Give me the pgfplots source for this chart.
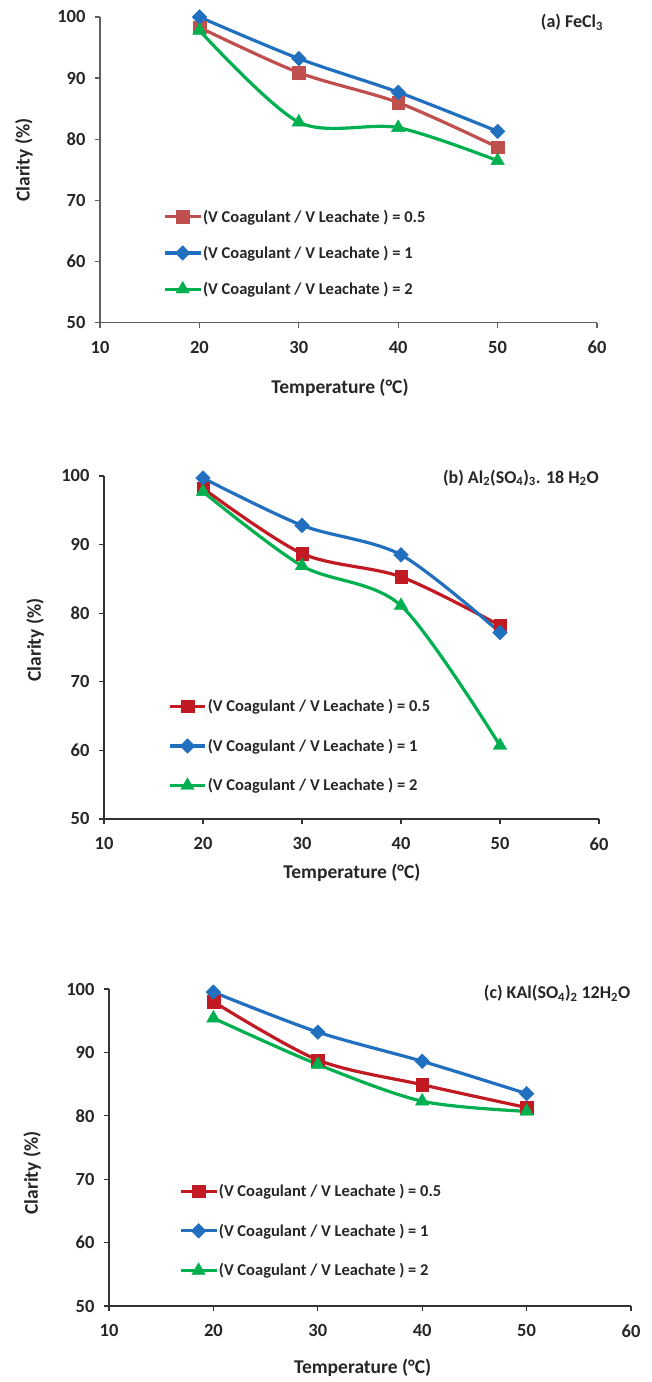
\documentclass[border=0pt]{standalone}
\usepackage{fontspec}
\setmainfont{Carlito}
\usepackage{pgfplots}
\pgfplotsset{compat=1.18}

\definecolor{redA}{HTML}{C0504D}
\definecolor{redB}{HTML}{C21A22}
\definecolor{blueS}{HTML}{2170C0}
\definecolor{greenS}{HTML}{00B050}
\definecolor{axisA}{HTML}{606060}
\definecolor{axisB}{HTML}{333333}
\definecolor{txt}{HTML}{262626}

% clarity (%) against temperature for three coagulant/leachate volume ratios
\pgfplotstableread{
T   r05   r1    r2
20  98.3  100.0 97.8
30  90.9  93.2  82.8
40  86.0  87.7  81.9
50  78.7  81.3  76.5
}\fecl
\pgfplotstableread{
T   r05   r1    r2
20  98.2  99.7  97.7
30  88.7  92.8  86.9
40  85.3  88.5  81.1
50  78.2  77.2  60.7
}\alum
\pgfplotstableread{
T   r05   r1    r2
20  98.0  99.5  95.4
30  88.8  93.2  88.1
40  84.9  88.6  82.3
50  81.3  83.5  80.7
}\kalum

\pgfplotsset{
  panel/.style={
    scale only axis, clip=false,
    xmin=10, xmax=60, ymin=50, ymax=100,
    xtick={10,20,...,60}, ytick={50,60,...,100},
    axis x line*=bottom, axis y line*=left,
    tick align=outside, major tick length=5bp,
    axis line style={line width=1.3bp, -},
    tick style={line width=1.3bp},
    /pgf/number format/assume math mode=true,
    tick label style={font=\fontsize{18.5bp}{21bp}\selectfont\bfseries, text=txt},
    xticklabel style={yshift=-10bp},
    yticklabel style={xshift=-6bp},
    label style={font=\fontsize{19.5bp}{23bp}\selectfont\bfseries, text=txt},
    xlabel={Temperature (°C)}, ylabel={Clarity (\%)},
    legend style={draw=none, fill=none, inner sep=0pt, outer sep=0pt,
      font=\fontsize{16.5bp}{19bp}\selectfont\bfseries, text=txt,
      nodes={inner sep=1.2bp}, cells={anchor=west}, anchor=west},
    legend image code/.code={%
      \draw[mark repeat=2,mark phase=2] plot coordinates {(0bp,0bp) (17.5bp,0bp) (35bp,0bp)};},
    every axis plot/.append style={line width=3.2bp, smooth,
      mark options={solid, line width=0.4bp}},
  },
  sq/.style={mark=square*, mark size=6.3bp},
  dm/.style={mark=square*, mark size=5.2bp, mark options={rotate=45, solid, line width=0.4bp}},
  tr/.style={mark=triangle*, mark size=7.8bp},
}

\newcommand{\ttl}{\fontsize{18bp}{21bp}\selectfont\bfseries\color{txt}}

\begin{document}
\begin{tikzpicture}
\useasboundingbox (0,0) rectangle (652bp,1382bp);

% (a) FeCl3
\begin{axis}[panel, at={(100bp,1059.3bp)}, anchor=south west,
  width=497bp, height=305.7bp,
  axis line style={draw=axisA}, tick style={draw=axisA},
  xlabel style={at={(axis description cs:0.483,-0.214)}, anchor=center},
  ylabel style={at={(axis description cs:-0.153,0.532)}, anchor=center},
  legend style={at={(axis description cs:0.128,0.228)}, row sep=20bp}]
\addplot[redA, sq] table[x=T, y=r05] {\fecl};
\addlegendentry{(V Coagulant / V Leachate ) = 0.5}
\addplot[blueS, dm] table[x=T, y=r1] {\fecl};
\addlegendentry{(V Coagulant / V Leachate ) = 1}
\addplot[greenS, tr] table[x=T, y=r2] {\fecl};
\addlegendentry{(V Coagulant / V Leachate ) = 2}
\node[anchor=east, inner sep=0pt] at (rel axis cs:1.0125,0.982) {\ttl (a) FeCl\textsubscript{3}};
\end{axis}

% (b) Al2(SO4)3 . 18 H2O
\begin{axis}[panel, at={(104bp,563bp)}, anchor=south west,
  width=495bp, height=343bp,
  axis line style={draw=axisB}, tick style={draw=axisB},
  xlabel style={at={(axis description cs:0.501,-0.157)}, anchor=center},
  ylabel style={at={(axis description cs:-0.139,0.522)}, anchor=center},
  legend style={at={(axis description cs:0.130,0.213)}, row sep=23.5bp}]
\addplot[redB, sq] table[x=T, y=r05] {\alum};
\addlegendentry{(V Coagulant / V Leachate ) = 0.5}
\addplot[blueS, dm] table[x=T, y=r1] {\alum};
\addlegendentry{(V Coagulant / V Leachate ) = 1}
\addplot[greenS, tr] table[x=T, y=r2] {\alum};
\addlegendentry{(V Coagulant / V Leachate ) = 2}
\node[anchor=east, inner sep=0pt] at (rel axis cs:1.0,0.994) {\ttl (b) Al\textsubscript{2}(SO\textsubscript{4})\textsubscript{3}. 18 H\textsubscript{2}O};
\end{axis}

% (c) KAl(SO4)2 12H2O
\begin{axis}[panel, at={(109bp,76bp)}, anchor=south west,
  width=522bp, height=317bp,
  axis line style={draw=axisB}, tick style={draw=axisB},
  xlabel style={at={(axis description cs:0.486,-0.196)}, anchor=center},
  ylabel style={at={(axis description cs:-0.147,0.42)}, anchor=center},
  legend style={at={(axis description cs:0.135,0.237)}, row sep=23.5bp}]
\addplot[redB, sq] table[x=T, y=r05] {\kalum};
\addlegendentry{(V Coagulant / V Leachate ) = 0.5}
\addplot[blueS, dm] table[x=T, y=r1] {\kalum};
\addlegendentry{(V Coagulant / V Leachate ) = 1}
\addplot[greenS, tr] table[x=T, y=r2] {\kalum};
\addlegendentry{(V Coagulant / V Leachate ) = 2}
\node[anchor=east, inner sep=0pt] at (rel axis cs:0.999,0.987) {\ttl (c) KAl(SO\textsubscript{4})\textsubscript{2} 12H\textsubscript{2}O};
\end{axis}
\end{tikzpicture}
\end{document}
